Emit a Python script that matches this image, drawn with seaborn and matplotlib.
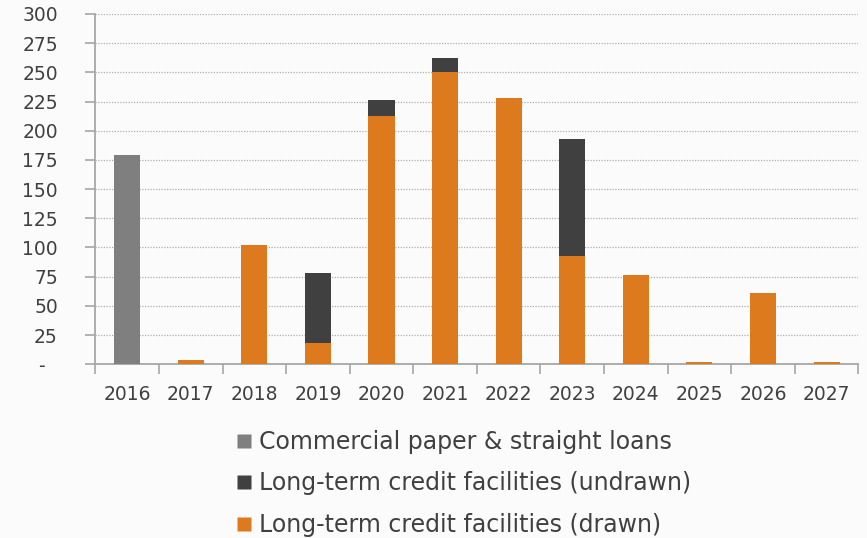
import matplotlib
matplotlib.use("Agg")
import matplotlib.pyplot as plt
import seaborn as sns
import numpy as np
import pandas as pd
from matplotlib.lines import Line2D

years = ["2016", "2017", "2018", "2019", "2020", "2021", "2022", "2023", "2024", "2025", "2026", "2027"]
commercial_paper = [179, 0, 0, 0, 0, 0, 0, 0, 0, 0, 0, 0]
lt_undrawn = [0, 0, 0, 60, 13, 12, 0, 100, 0, 0, 0, 0]
lt_drawn = [0, 4, 102, 18, 213, 250, 228, 93, 76, 1.5, 61, 1.5]
y_ticks = [0, 25, 50, 75, 100, 125, 150, 175, 200, 225, 250, 275, 300]
y_tick_labels = ["-  ", "25", "50", "75", "100", "125", "150", "175", "200", "225", "250", "275", "300"]

labels = ["Commercial paper & straight loans",
          "Long-term credit facilities (undrawn)",
          "Long-term credit facilities (drawn)"]
colors = ["#7F7F7F", "#404040", "#DE7A1E"]
text_color = "#404040"
bg = "#FBFBFB"

df = pd.DataFrame({
    "year": years,
    "cp": commercial_paper,
    "undrawn": lt_undrawn,
    "drawn": lt_drawn,
})
df["facility_total"] = df["undrawn"] + df["drawn"]

sns.set_theme(style="white")
plt.rcParams["font.family"] = ["DejaVu Sans"]

fig = plt.figure(figsize=(8.67, 5.38), dpi=100, facecolor=bg)
ax = fig.add_axes([0.11, 0.323, 0.88, 0.651])
ax.set_facecolor(bg)

bar_w = 0.41
# totals first (undrawn shows on top), then drawn portion layered over them
sns.barplot(data=df, x="year", y="facility_total", color=colors[1], width=bar_w,
            saturation=1, ax=ax, edgecolor="none", errorbar=None, zorder=3)
sns.barplot(data=df, x="year", y="drawn", color=colors[2], width=bar_w,
            saturation=1, ax=ax, edgecolor="none", errorbar=None, zorder=4)
sns.barplot(data=df, x="year", y="cp", color=colors[0], width=bar_w,
            saturation=1, ax=ax, edgecolor="none", errorbar=None, zorder=4)

ax.set_xlim(-0.5, len(years) - 0.5)
ax.set_ylim(0, 300)
ax.set_yticks(y_ticks)
ax.set_yticklabels(y_tick_labels)
ax.set_xlabel("")
ax.set_ylabel("")

ax.yaxis.grid(True, linestyle=(0, (1.0, 1.2)), color="#AFAFAF", linewidth=0.9, zorder=0)
ax.xaxis.grid(False)
ax.set_axisbelow(True)

for s in ["top", "right"]:
    ax.spines[s].set_visible(False)
for s in ["left", "bottom"]:
    ax.spines[s].set_color("#A6A6A6")
    ax.spines[s].set_linewidth(1.3)

ax.tick_params(axis="y", which="major", length=7, width=1.2, color="#A6A6A6",
               labelsize=13.5, labelcolor=text_color, pad=20, left=True)
ax.set_xticks(np.arange(len(years)))
ax.set_xticklabels(years)
ax.tick_params(axis="x", which="major", length=0, labelsize=13.5, labelcolor=text_color, pad=15)
ax.set_xticks(np.arange(len(years) + 1) - 0.5, minor=True)
ax.tick_params(axis="x", which="minor", length=7, width=1.2, color="#A6A6A6", bottom=True)
for lab in ax.get_yticklabels():
    lab.set_horizontalalignment("right")

handles = [Line2D([0], [0], marker="s", linestyle="none", markersize=10,
                  markerfacecolor=c, markeredgecolor="none") for c in colors]
leg = fig.legend(handles, labels, loc="upper left", bbox_to_anchor=(0.27, 0.201),
                 ncol=1, frameon=False, fontsize=17, labelcolor=text_color,
                 handlelength=0.8, handletextpad=0.25, labelspacing=0.74,
                 borderpad=0, borderaxespad=0)

fig.savefig("out.png", dpi=100, facecolor=bg)
